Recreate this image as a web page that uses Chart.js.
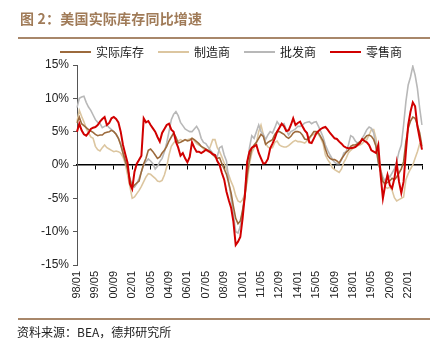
<!DOCTYPE html>
<html>
<head>
<meta charset="utf-8">
<script src="https://cdn.jsdelivr.net/npm/chart.js@4/dist/chart.umd.min.js"></script>
<style>
body { margin: 0; background: #fff; font-family: "Noto Sans CJK SC", sans-serif; }
#wrap { position: relative; width: 447px; height: 352px; overflow: hidden; }
#title { position: absolute; left: 20px; top: 8px; font-size: 14px; font-weight: bold; color: #a07b58; letter-spacing: 0.2px; line-height: 20px; }
.rule { position: absolute; left: 18px; width: 412px; height: 2px; background: #a8876a; }
#legend { position: absolute; left: 60px; top: 44px; display: flex; align-items: center; font-size: 12px; line-height: 16px; color: #222; }
.item { display: flex; align-items: center; margin-right: 14px; }
.swatch { width: 31px; height: 2px; margin-right: 5px; }
#source { position: absolute; left: 17px; top: 324px; font-size: 12px; line-height: 16px; color: #222; }
canvas { position: absolute; left: 0; top: 0; }
</style>
</head>
<body>
<div id="wrap">
    <canvas id="chart" width="447" height="352"></canvas>
    <div id="title">图 2：美国实际库存同比增速</div>
    <div class="rule" style="top:37px"></div>
    <div id="legend"></div>
    <div class="rule" style="top:318px"></div>
    <div id="source">资料来源：BEA，德邦研究所</div>
</div>
<script>
// 标签：1998/01 起每两个月一个点，至 2023/01
const months = [];
for (let i = 0; i <= 150; i++) {
    const m = i * 2;
    const yy = (1998 + Math.floor(m / 12)) % 100;
    const mm = (m % 12) + 1;
    months.push(String(yy).padStart(2, '0') + '/' + String(mm).padStart(2, '0'));
}

const tickLabels = ['98/01', '99/05', '00/09', '02/01', '03/05', '04/09', '06/01', '07/05', '08/09',
    '10/01', '11/05', '12/09', '14/01', '15/05', '16/09', '18/01', '19/05', '20/09', '22/01'];

// 实际库存
const totalInv = [
    6.3, 7.2, 6.2, 5.9, 5.6, 5.3, 5.1, 4.9, 4.6, 4.4,
    4.5, 4.5, 4.8, 4.9, 5.0, 5.2, 5.0, 4.6, 4.0, 3.0,
    1.8, 0.6, -0.6, -2.2, -3.4, -3.0, -2.7, -2.4, -1.0, 0.2,
    1.0, 2.2, 2.4, 2.0, 1.5, 1.0, 1.2, 1.8, 2.2, 2.8,
    3.6, 4.2, 4.8, 4.2, 3.3, 3.4, 3.6, 3.8, 3.6, 3.7,
    4.0, 3.8, 3.5, 3.2, 2.8, 2.6, 2.4, 2.2, 2.0, 1.6,
    1.2, 1.0, 1.1, 0.2, -0.6, -1.4, -2.8, -4.2, -6.2, -8.0,
    -8.8, -8.4, -6.8, -4.8, -1.5, 0.8, 2.5, 3.0, 3.4, 4.0,
    4.6, 4.3, 3.1, 3.4, 3.6, 3.8, 4.6, 5.0, 5.0, 4.8,
    4.6, 4.2, 4.0, 4.3, 4.8, 5.0, 5.0, 4.9, 4.5, 3.9,
    3.8, 4.1, 4.5, 5.0, 5.0, 4.8, 4.2, 3.6, 2.4, 1.4,
    1.0, 0.8, 0.8, 0.6, 0.3, 0.9, 1.4, 1.9, 2.2, 2.8,
    3.0, 3.0, 3.2, 3.5, 3.7, 4.0, 4.4, 4.5, 4.3, 3.8,
    2.8, 0.5, -1.0, -2.5, -2.8, -2.6, -2.4, -2.0, -2.2, -1.8,
    -1.2, -0.6, 0.5, 3.5, 5.5, 6.6, 7.2, 7.0, 6.0, 4.8, 2.8
];

// 制造商
const manufacturers = [
    6.5, 8.2, 7.3, 6.5, 5.5, 4.8, 4.2, 4.0, 2.8, 2.3,
    2.1, 2.6, 3.0, 2.6, 2.4, 2.2, 2.0, 2.1, 2.0, 1.8,
    1.2, 0.2, -1.5, -3.2, -5.0, -4.8, -4.3, -3.8, -3.2, -2.5,
    -1.8, -1.3, -1.4, -1.7, -2.0, -2.4, -2.5, -2.3, -1.5, -0.3,
    1.5, 2.8, 3.3, 3.7, 3.6, 3.8, 3.6, 3.7, 3.8, 3.9,
    4.0, 3.6, 3.2, 3.0, 2.8, 2.4, 2.2, 2.0, 2.8, 3.8,
    3.8, 2.6, 2.0, 1.2, 0.3, -0.7, -1.5, -2.5, -3.3, -4.6,
    -5.4, -5.6, -5.2, -4.4, -2.5, 0.2, 1.8, 2.6, 3.3, 5.0,
    6.0, 4.6, 3.2, 2.7, 2.5, 2.6, 3.4, 3.6, 3.0, 2.8,
    2.7, 2.7, 2.9, 3.2, 3.5, 3.7, 3.5, 3.5, 3.4, 3.3,
    3.6, 3.9, 4.4, 4.6, 4.8, 4.6, 4.0, 3.2, 1.5, 0.8,
    0.3, -0.4, -0.7, -0.9, -1.1, -0.6, 0.4, 1.0, 1.8, 2.2,
    2.5, 2.7, 2.9, 3.0, 3.2, 3.6, 3.8, 4.5, 5.3, 5.3,
    4.0, 1.5, -0.5, -2.4, -3.3, -3.5, -3.3, -3.8, -4.9, -5.4,
    -5.2, -5.0, -4.8, -2.2, -1.3, -0.6, 0.0, 1.0, 2.0, 3.2, 3.4
];

// 批发商
const wholesalers = [
    8.6, 10.0, 10.2, 10.3, 9.4, 8.7, 8.2, 7.5, 6.8, 6.4,
    6.2, 5.6, 5.8, 6.0, 5.6, 5.3, 5.0, 4.6, 4.0, 3.2,
    1.8, 0.5, -0.6, -2.0, -3.0, -3.3, -2.8, -2.0, -1.0, 0.0,
    0.5, 0.9, 0.6, 0.2, -0.6, -0.2, 0.5, 1.0, 2.0, 3.3,
    5.0, 6.8, 7.6, 8.0, 7.4, 6.4, 5.9, 5.4, 5.2, 5.0,
    5.0, 5.4, 5.8, 5.2, 4.0, 3.4, 3.2, 2.7, 2.2, 1.8,
    1.5, 1.3, 2.6, 2.8, 1.5, 0.6, -2.5, -5.0, -7.4, -10.0,
    -10.2, -9.2, -6.8, -4.0, 0.0, 2.6, 4.4, 4.0, 5.0, 6.0,
    5.0, 4.6, 3.8, 4.5, 5.0, 4.8, 5.6, 6.5, 6.0, 6.0,
    6.2, 5.3, 4.5, 5.0, 5.2, 5.4, 5.8, 5.8, 6.0, 6.3,
    6.4, 6.5, 6.2, 6.4, 6.5, 5.8, 5.0, 4.2, 3.0, 2.2,
    1.5, 0.9, 0.4, 0.2, 0.2, 0.8, 1.8, 2.0, 3.0, 4.4,
    4.2, 3.6, 3.3, 3.4, 4.0, 4.6, 5.3, 5.7, 5.5, 4.8,
    2.8, 0.2, -0.8, -1.8, -2.5, -1.5, -1.8, -1.2, -0.6, 0.5,
    2.0, 3.0, 6.0, 9.5, 12.0, 13.2, 14.8, 13.5, 11.5, 8.5, 6.0
];

// 零售商
const retailers = [
    5.0, 6.2, 5.2, 4.6, 4.4, 4.8, 5.4, 5.6, 5.7, 6.0,
    6.5, 6.9, 7.2, 6.0, 6.3, 7.0, 7.2, 6.9, 6.4, 5.0,
    3.0, 1.6, 0.3, -2.8, -3.6, -1.0, 0.2, 0.8, 1.4, 7.0,
    6.4, 6.6, 6.0, 5.5, 5.0, 4.2, 3.5, 4.8, 5.4, 6.0,
    6.2, 5.3, 5.0, 3.5, 2.6, 1.4, 1.8, 1.0, 0.4, 1.2,
    3.4, 2.6, 2.0, 2.0, 1.8, 2.0, 2.3, 2.1, 1.9, 1.6,
    1.5, 0.6, 0.0, -1.2, -2.2, -4.0, -5.3, -6.4, -8.5, -12.0,
    -11.5, -10.8, -8.0, -4.5, 0.5, 2.0, 2.6, 2.8, 3.0, 1.8,
    1.0, 0.2, 0.3, 0.9, 2.5, 3.2, 4.0, 5.0, 5.6, 6.2,
    5.8, 5.1, 5.2, 6.0, 7.0, 6.0, 6.3, 6.5, 5.8, 5.2,
    4.8, 3.4, 3.3, 4.0, 4.7, 5.1, 5.4, 5.6, 5.7, 5.3,
    4.8, 4.4, 4.0, 3.9, 3.5, 3.2, 2.8, 2.6, 2.5, 2.5,
    2.6, 2.7, 3.0, 3.3, 3.9, 3.6, 3.4, 3.0, 2.2, 2.0,
    1.8, 3.0, -1.5, -5.0, -3.0, -1.5, -3.0, -3.5, -2.0, 0.3,
    -2.5, -4.2, -2.5, 2.0, 6.0, 8.0, 9.4, 8.8, 5.8, 4.0, 2.3
];

const ctx = document.getElementById('chart').getContext('2d');

const chart = new Chart(ctx, {
    type: 'line',
    data: {
        labels: months,
        datasets: [
            { label: '实际库存', data: totalInv, borderColor: '#9c6a3c', backgroundColor: '#9c6a3c', borderWidth: 1.6, order: 1 },
            { label: '制造商', data: manufacturers, borderColor: '#dcc6a0', backgroundColor: '#dcc6a0', borderWidth: 1.6, order: 3 },
            { label: '批发商', data: wholesalers, borderColor: '#b8b8b8', backgroundColor: '#b8b8b8', borderWidth: 1.6, order: 2 },
            { label: '零售商', data: retailers, borderColor: '#d10000', backgroundColor: '#d10000', borderWidth: 2, order: 0 }
        ]
    },
    options: {
        responsive: false,
        animation: false,
        layout: { padding: { left: 0, right: 25, top: 65, bottom: 47 } },
        elements: { point: { radius: 0 }, line: { tension: 0, fill: false } },
        plugins: {
            legend: { display: false },
            tooltip: { enabled: false }
        },
        scales: {
            x: {
                type: 'category',
                position: { y: 0 },
                ticks: { display: false },
                grid: {
                    drawOnChartArea: false,
                    tickLength: 4,
                    color: (c) => (c.index % 8 === 0 || c.index === months.length - 1) ? '#000' : 'rgba(0,0,0,0)'
                },
                border: { color: '#000', width: 1.5 }
            },
            x2: {
                type: 'category',
                position: 'bottom',
                grid: { display: false, drawTicks: false },
                border: { display: false },
                ticks: {
                    autoSkip: false,
                    minRotation: 90,
                    maxRotation: 90,
                    padding: 6,
                    color: '#222',
                    font: { family: 'Liberation Sans', size: 11 },
                    callback: (v, i) => tickLabels.includes(months[i]) ? months[i] : ''
                },
                afterFit: (s) => { s.height = 40; }
            },
            y: {
                min: -15,
                max: 15,
                ticks: {
                    stepSize: 5,
                    padding: 4,
                    color: '#222',
                    font: { family: 'Liberation Sans', size: 12 },
                    callback: (v) => v + '%'
                },
                grid: { drawOnChartArea: false, tickLength: 4, color: '#555' },
                border: { color: '#555' },
                afterFit: (s) => { s.width = 77; }
            }
        }
    }
});

// 图例
const legendBox = document.getElementById('legend');
chart.data.datasets.forEach((ds) => {
    const item = document.createElement('div');
    item.className = 'item';
    const sw = document.createElement('span');
    sw.className = 'swatch';
    sw.style.background = ds.borderColor;
    const txt = document.createElement('span');
    txt.textContent = ds.label;
    item.appendChild(sw);
    item.appendChild(txt);
    legendBox.appendChild(item);
});
</script>
</body>
</html>
